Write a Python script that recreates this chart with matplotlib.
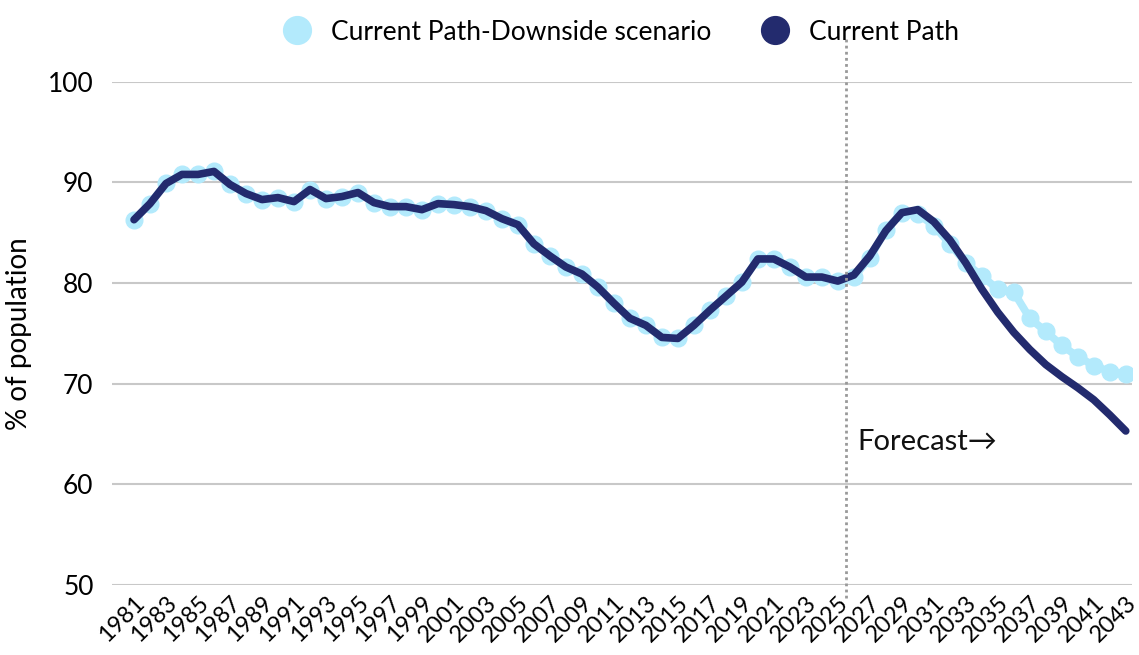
import matplotlib
matplotlib.use("Agg")
import matplotlib.pyplot as plt
from matplotlib.lines import Line2D

plt.rcParams["font.family"] = ["Lato", "DejaVu Sans"]

years = list(range(1981, 2044))

downside = [
    86.3, 87.9, 89.9, 90.8, 90.8, 91.1, 89.8, 88.9, 88.3, 88.5,
    88.1, 89.3, 88.4, 88.6, 89.0, 88.0, 87.6, 87.6, 87.3, 87.9,
    87.8, 87.6, 87.2, 86.4, 85.8, 83.9, 82.7, 81.6, 80.9, 79.6,
    78.0, 76.5, 75.8, 74.6, 74.5, 75.8, 77.3, 78.7, 80.1, 82.4,
    82.4, 81.6, 80.6, 80.6, 80.2, 80.6, 82.5, 85.3, 87.0, 86.9,
    85.7, 83.9, 82.0, 80.7, 79.4, 79.1, 76.5, 75.2, 73.8, 72.7,
    71.8, 71.2, 71.0,
]

current_path = downside[:45] + [
    80.8, 82.7, 85.2, 87.0, 87.3, 86.1, 84.3, 82.0, 79.4, 77.1,
    75.1, 73.4, 71.9, 70.7, 69.6, 68.4, 66.9, 65.3,
]

tick_years = years[::2]
y_ticks = [50, 60, 70, 80, 90, 100]
forecast_start = 2025.5

light = "#b3eafc"
navy = "#232b6e"

fig = plt.figure(figsize=(11.39, 6.55), dpi=100)
ax = fig.add_axes([0.098, 0.107, 0.896, 0.768])

ax.plot(years, downside, color=light, lw=5.5, marker="o", ms=12,
        solid_capstyle="round", zorder=2)
ax.plot(years, current_path, color=navy, lw=5.5, solid_joinstyle="round",
        solid_capstyle="round", zorder=3)

ax.axvline(forecast_start, ymin=-0.026, ymax=1.085, color="#999999",
           lw=2, ls=(0, (1, 1.2)), clip_on=False, zorder=4)
ax.text(forecast_start + 0.7, 64.2, "Forecast\u2192", fontsize=21,
        color="#111111", ha="left", va="center")

ax.set_xlim(1979.6, 2043.4)
ax.set_ylim(50, 100)
ax.set_yticks(y_ticks)
ax.set_xticks(tick_years)
ax.set_xticklabels([str(y) for y in tick_years], rotation=45, ha="right",
                   va="top", rotation_mode="anchor", fontsize=17)
ax.tick_params(axis="y", labelsize=19, length=0, pad=13)
ax.tick_params(axis="x", length=0, pad=5)
ax.yaxis.grid(True, color="#c8c8c8", lw=1.5)
ax.set_axisbelow(True)
for s in ax.spines.values():
    s.set_visible(False)
ax.set_ylabel("% of population", fontsize=20)
ax.yaxis.set_label_coords(-0.078, 0.5)

handles = [
    Line2D([], [], ls="none", marker="o", ms=20, color=light),
    Line2D([], [], ls="none", marker="o", ms=20, color=navy),
]
fig.legend(handles, ["Current Path-Downside scenario", "Current Path"],
           loc="center", bbox_to_anchor=(0.54, 0.951), ncol=2,
           frameon=False, fontsize=19, handletextpad=0.3,
           columnspacing=1.4)

fig.savefig("out.png", dpi=100)
